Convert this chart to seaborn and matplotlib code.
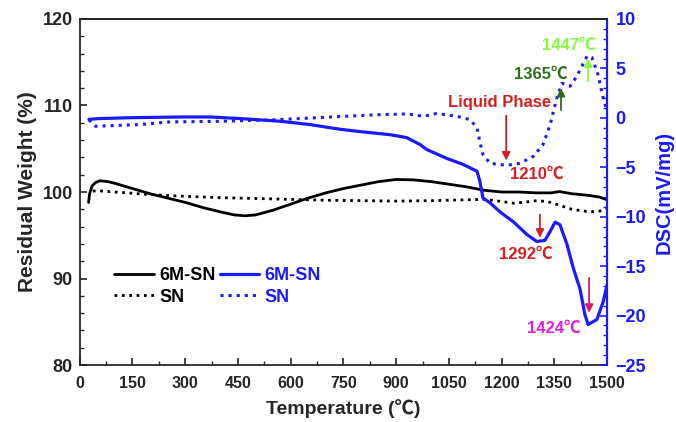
import numpy as np
import pandas as pd
import seaborn as sns
import matplotlib.pyplot as plt
from matplotlib.ticker import MultipleLocator
from matplotlib.lines import Line2D

# TG, 6M-SN (left axis)
tg_6m_temp = [25, 28, 35, 45, 57, 80, 100, 150, 200, 250, 300, 350, 400, 440, 470, 500, 550,
              600, 650, 700, 750, 800, 850, 900, 950, 1000, 1050, 1100, 1150, 1200, 1250,
              1300, 1340, 1365, 1400, 1450, 1480, 1500]
tg_6m_weight = [98.8, 99.8, 100.7, 101.1, 101.3, 101.2, 101.0, 100.4, 99.8, 99.3, 98.8, 98.2,
                97.7, 97.35, 97.25, 97.35, 97.9, 98.6, 99.3, 99.9, 100.4, 100.8, 101.2, 101.45,
                101.4, 101.2, 100.9, 100.6, 100.2, 100.0, 100.0, 99.9, 99.9, 100.05, 99.8,
                99.6, 99.4, 99.1]

# TG, SN (left axis)
tg_sn_temp = [37, 50, 100, 200, 300, 400, 500, 600, 700, 800, 900, 1000, 1100, 1150, 1200,
              1235, 1270, 1300, 1330, 1370, 1400, 1450, 1480, 1500]
tg_sn_weight = [100.1, 100.15, 100.0, 99.7, 99.5, 99.35, 99.25, 99.15, 99.05, 99.0, 98.95,
                99.0, 99.1, 99.15, 98.9, 98.7, 98.85, 99.0, 98.9, 98.4, 98.0, 97.7, 97.8, 98.2]

# DSC, 6M-SN (right axis)
dsc_6m_temp = [26, 57, 150, 293, 370, 455, 570, 655, 740, 800, 882, 930, 968, 987, 1044, 1090,
               1130, 1138, 1147, 1167, 1195, 1233, 1272, 1300, 1323, 1338, 1352, 1366, 1386,
               1404, 1423, 1437, 1446, 1471, 1489, 1500]
dsc_6m_value = [-0.15, -0.07, 0.02, 0.09, 0.09, -0.07, -0.34, -0.68, -1.15, -1.4, -1.7, -2.0,
                -2.7, -3.2, -4.1, -4.7, -5.4, -6.4, -8.1, -8.6, -9.5, -10.5, -11.8, -12.5,
                -12.4, -11.5, -10.55, -10.8, -12.8, -15.2, -17.3, -19.9, -20.9, -20.4, -18.6,
                -16.9]

# DSC, SN (right axis)
dsc_sn_temp = [26, 45, 170, 255, 400, 550, 740, 835, 930, 977, 1015, 1072, 1110, 1130, 1138,
               1147, 1167, 1215, 1252, 1290, 1318, 1338, 1357, 1372, 1395, 1414, 1443, 1457,
               1474, 1489, 1500]
dsc_sn_value = [-0.2, -0.85, -0.68, -0.41, -0.35, -0.2, 0.13, 0.3, 0.4, 0.16, 0.44, 0.16,
                -0.17, -1.0, -2.4, -3.7, -4.6, -4.8, -4.6, -3.9, -2.7, -0.7, 2.0, 3.5, 3.2,
                4.2, 6.25, 6.1, 4.4, 2.0, 0.7]

sns.set_style("ticks")
plt.rcParams['font.family'] = ['Liberation Sans', 'Noto Sans CJK SC', 'DejaVu Sans']
plt.rcParams['font.weight'] = 'bold'

BLUE = '#1a1aff'
RED = '#d42020'

fig = plt.figure(figsize=(6.76, 4.22), dpi=100)
ax = fig.add_axes([0.118, 0.135, 0.780, 0.820])
ax2 = ax.twinx()

sns.lineplot(x=tg_6m_temp, y=tg_6m_weight, ax=ax, color='black', lw=2, sort=False)
sns.lineplot(x=tg_sn_temp, y=tg_sn_weight, ax=ax, color='black', lw=2, linestyle=':', sort=False)
sns.lineplot(x=dsc_6m_temp, y=dsc_6m_value, ax=ax2, color=BLUE, lw=2.3, sort=False)
sns.lineplot(x=dsc_sn_temp, y=dsc_sn_value, ax=ax2, color=BLUE, lw=2.2, linestyle=':', sort=False)

ax.set_xlim(0, 1500)
ax.set_ylim(80, 120)
ax2.set_ylim(-25, 10)
ax.xaxis.set_major_locator(MultipleLocator(150))
ax.xaxis.set_minor_locator(MultipleLocator(75))
ax.yaxis.set_major_locator(MultipleLocator(10))
ax.yaxis.set_minor_locator(MultipleLocator(2))
ax2.yaxis.set_major_locator(MultipleLocator(5))
ax2.yaxis.set_minor_locator(MultipleLocator(1))

ax.tick_params(axis='both', which='major', direction='in', length=5, width=1.2)
ax.tick_params(axis='both', which='minor', direction='in', length=3, width=1.0)
ax.tick_params(axis='x', labelsize=11.5, pad=8)
ax.tick_params(axis='y', labelsize=13, pad=5)
ax.tick_params(axis='x', top=False, which='both')
ax2.tick_params(axis='y', which='major', direction='in', length=5, width=1.2,
                colors=BLUE, labelsize=13, pad=6)
ax2.tick_params(axis='y', which='minor', direction='in', length=3, width=1.0, colors=BLUE)
for lab in ax.get_xticklabels() + ax.get_yticklabels() + ax2.get_yticklabels():
    lab.set_fontweight('bold')

for s in ['left', 'bottom', 'top']:
    ax.spines[s].set_linewidth(1.3)
ax2.spines['right'].set_color(BLUE)
ax2.spines['right'].set_linewidth(1.5)
ax2.spines['left'].set_visible(False)
ax2.spines['top'].set_linewidth(1.3)
ax2.spines['bottom'].set_visible(False)

ax.set_xlabel('Temperature (℃)', fontsize=14, fontweight='bold', labelpad=6)
ax.set_ylabel('Residual Weight (%)', fontsize=15, fontweight='bold', labelpad=4)
ax2.set_ylabel('DSC(mV/mg)', fontsize=14.5, fontweight='bold', color=BLUE, labelpad=6)

# annotations (right axis coordinates)
def arrow(x, y0, y1, color):
    ax2.annotate('', xy=(x, y1), xytext=(x, y0),
                 arrowprops=dict(arrowstyle='-|>', color=color, lw=1.3, mutation_scale=12))

AFS = 12
ax2.text(1195, 1.6, 'Liquid Phase', color=RED, fontsize=AFS, fontweight='bold',
         ha='center', va='center')
arrow(1213, 0.5, -4.6, RED)
ax2.text(1300, -5.7, '1210℃', color=RED, fontsize=AFS, fontweight='bold', ha='center', va='center')
ax2.text(1312, 4.4, '1365℃', color='#2f6f1f', fontsize=AFS, fontweight='bold', ha='center', va='center')
arrow(1369, 0.5, 3.3, '#2f6f1f')
ax2.text(1392, 7.3, '1447℃', color='#80ff40', fontsize=AFS, fontweight='bold', ha='center', va='center')
arrow(1446, 3.4, 6.3, '#80ff40')
ax2.text(1269, -13.8, '1292℃', color=RED, fontsize=AFS, fontweight='bold', ha='center', va='center')
arrow(1309, -9.5, -12.4, RED)
ax2.text(1349, -21.3, '1424℃', color='#e020e0', fontsize=AFS, fontweight='bold', ha='center', va='center')
arrow(1449, -15.9, -20.0, '#d81b70')

handles = [Line2D([], [], color='black', lw=2),
           Line2D([], [], color='black', lw=2, linestyle=':'),
           Line2D([], [], color=BLUE, lw=2.3),
           Line2D([], [], color=BLUE, lw=2.2, linestyle=':')]
labels = ['6M-SN', 'SN', '6M-SN', 'SN']
leg = ax2.legend(handles, labels, ncol=2, loc='upper left', bbox_to_anchor=(0.035, 0.33),
                 frameon=False, handlelength=2.2, handletextpad=0.3,
                 columnspacing=0.2, labelspacing=0.25, prop={'weight': 'bold', 'size': 13})
for i, t in enumerate(leg.get_texts()):
    t.set_color('black' if i < 2 else BLUE)

fig.savefig('out.png', dpi=100)
